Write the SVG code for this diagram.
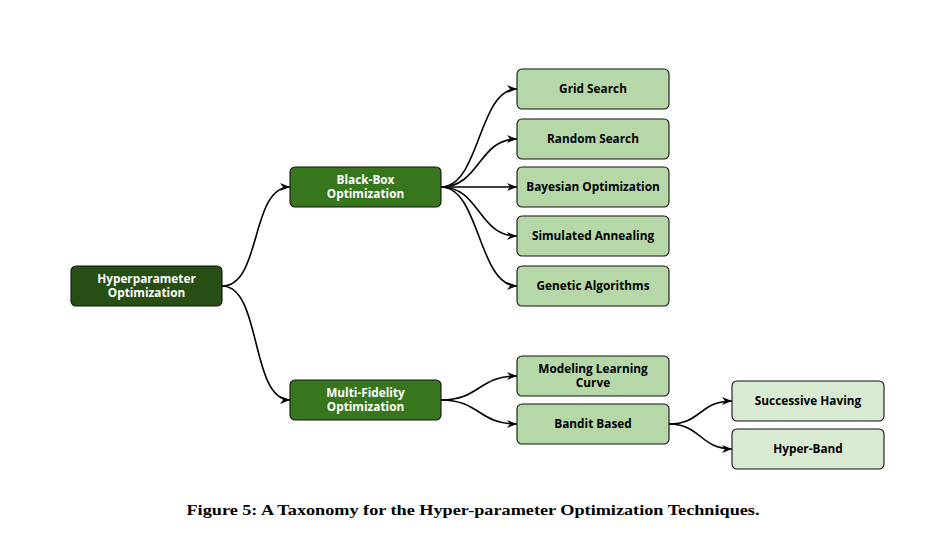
<svg xmlns="http://www.w3.org/2000/svg" width="927" height="544" viewBox="0 0 927 544">
<defs>
<marker id="arr" markerUnits="userSpaceOnUse" markerWidth="10" markerHeight="8" refX="10" refY="4" orient="auto" viewBox="0 0 10 8">
<path d="M0,0 L10,4 L0,8 L3,4 Z" fill="#000"/>
</marker>
</defs>
<style>
rect{stroke:#111;stroke-width:1.1}
.d3{fill:#274e13}
.d2{fill:#38761d}
.l2{fill:#b6d7a8}
.l3{fill:#d9ead3}
text{font-family:"Open Sans","Noto Sans","DejaVu Sans",sans-serif;font-weight:bold;font-size:11.8px;text-anchor:middle}
.w{fill:#fff}
.k{fill:#000}
#edges path{fill:none;stroke:#000;stroke-width:1.6;marker-end:url(#arr)}
.cap{font-family:"Liberation Serif","DejaVu Serif",serif;font-weight:bold;font-size:14px;fill:#000}
</style>
<rect width="927" height="544" fill="#fff" style="stroke:none"/>
<g id="edges">
<path d="M222,286 C262,286 250,187 290,187"/>
<path d="M222,286 C262,286 250,400 290,400"/>
<path d="M441,187 C480,187 478,89 517,89"/>
<path d="M441,187 C480,187 478,139 517,139"/>
<path d="M441,187 L517,187"/>
<path d="M441,187 C480,187 478,236 517,236"/>
<path d="M441,187 C480,187 478,286 517,286"/>
<path d="M441,400 C480,400 478,376 517,376"/>
<path d="M441,400 C480,400 478,424 517,424"/>
<path d="M669,424 C701,424 700,401 732,401"/>
<path d="M669,424 C701,424 700,449 732,449"/>
</g>
<g id="n-root"><rect class="d3" x="71" y="266" width="151" height="40" rx="5"/><text class="w" x="146.5" y="283">Hyperparameter</text><text class="w" x="146.5" y="297">Optimization</text></g>
<g id="n-bb"><rect class="d2" x="290" y="167" width="151" height="40" rx="5"/><text class="w" x="365.5" y="184">Black-Box</text><text class="w" x="365.5" y="198">Optimization</text></g>
<g id="n-mf"><rect class="d2" x="290" y="380" width="151" height="40" rx="5"/><text class="w" x="365.5" y="397">Multi-Fidelity</text><text class="w" x="365.5" y="411">Optimization</text></g>
<g id="n-grid"><rect class="l2" x="517" y="69" width="152" height="40" rx="5"/><text class="k" x="593" y="93">Grid Search</text></g>
<g id="n-random"><rect class="l2" x="517" y="119" width="152" height="40" rx="5"/><text class="k" x="593" y="143">Random Search</text></g>
<g id="n-bayes"><rect class="l2" x="517" y="167" width="152" height="40" rx="5"/><text class="k" x="593" y="191">Bayesian Optimization</text></g>
<g id="n-sa"><rect class="l2" x="517" y="216" width="152" height="40" rx="5"/><text class="k" x="593" y="240">Simulated Annealing</text></g>
<g id="n-ga"><rect class="l2" x="517" y="266" width="152" height="40" rx="5"/><text class="k" x="593" y="290">Genetic Algorithms</text></g>
<g id="n-mlc"><rect class="l2" x="517" y="356" width="152" height="40" rx="5"/><text class="k" x="593" y="373">Modeling Learning</text><text class="k" x="593" y="387">Curve</text></g>
<g id="n-bandit"><rect class="l2" x="517" y="404" width="152" height="40" rx="5"/><text class="k" x="593" y="428">Bandit Based</text></g>
<g id="n-sh"><rect class="l3" x="732" y="381" width="152" height="40" rx="5"/><text class="k" x="808" y="405">Successive Having</text></g>
<g id="n-hb"><rect class="l3" x="732" y="429" width="152" height="40" rx="5"/><text class="k" x="808" y="453">Hyper-Band</text></g>
<text class="cap" x="473" y="514.5" textLength="573" lengthAdjust="spacingAndGlyphs">Figure 5: A Taxonomy for the Hyper-parameter Optimization Techniques.</text>
</svg>
